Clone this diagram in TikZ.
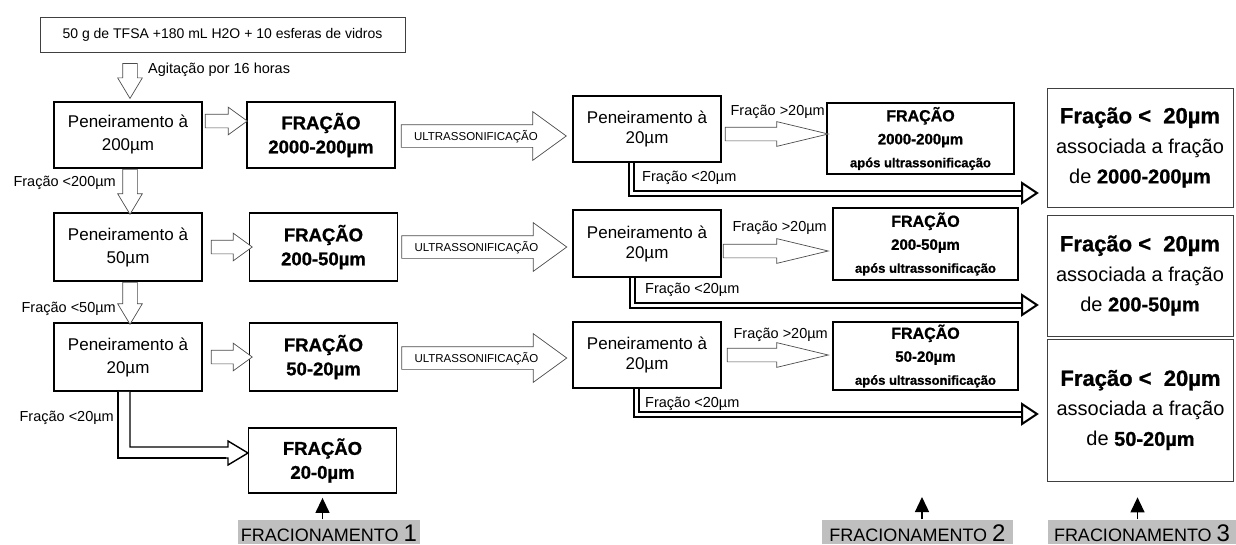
\documentclass[tikz,border=0pt]{standalone}
\usepackage{fontspec}
\setmainfont{Liberation Sans}
\newfontfamily\heavyfont[FakeBold=1]{Liberation Sans Bold}
\usetikzlibrary{positioning, arrows.meta, shapes.arrows, calc}
\newcommand{\fsz}[2]{\fontsize{#1}{#2}\selectfont}
\tikzset{
  box/.style={draw, line width=1.8pt, inner sep=0pt, align=center},
  sieve/.style={box, minimum width=148pt, minimum height=66pt, font=\fsz{17}{23}},
  sieveb/.style={sieve, font=\fsz{17}{20}},
  frac/.style={box, minimum width=148pt, minimum height=66pt, font=\heavyfont\fsz{18.5}{24}},
  fracu/.style={box, minimum width=186pt, minimum height=70pt, font=\heavyfont\fsz{15}{23}},
  final/.style={draw=black!75, line width=0.7pt, minimum width=186pt, inner sep=0pt, align=center, font=\fsz{20}{30}},
  thinbox/.style={draw=black!75, line width=0.7pt, inner sep=0pt, minimum width=365pt, minimum height=35pt, font=\fsz{14}{16}},
  lbl/.style={font=\fsz{14.5}{16}, inner sep=0pt},
  tag/.style={fill=black!25, inner sep=0pt, minimum height=24pt, text height=19pt, text depth=0pt, font=\fsz{18}{20}},
  barr/.style={single arrow, draw=black!70, fill=white, line width=0.7pt, anchor=tail},
  emptyarr/.style={barr, inner xsep=0pt, text height=0pt, text depth=0pt, text width=0pt},
  downarr/.style={emptyarr, rotate=-90, inner ysep=7pt, single arrow head extend=5pt, single arrow tip angle=62},
  rightarr/.style={emptyarr, minimum height=41pt, inner ysep=6.5pt, single arrow head extend=7pt, single arrow tip angle=72},
  sidearr/.style={emptyarr, minimum height=103pt, inner ysep=6.5pt, single arrow head extend=5.5pt, single arrow tip angle=27},
  ultra/.style={barr, minimum height=165pt, inner xsep=4pt, inner ysep=7pt, text height=8pt, text depth=0pt, single arrow head extend=13pt, single arrow tip angle=72, font=\fsz{11.5}{12}},
  dbl/.style={line width=2pt, double=white, double distance=3pt},
  dblhead/.style={line width=2pt, fill=white, line join=miter},
  hollow/.style={draw=black, line width=1.4pt, fill=white, line join=miter},
  uparr/.style={-{Triangle[length=15pt, width=14pt]}, line width=1.3pt}
}
\begin{document}
\begin{tikzpicture}[x=1pt, y=-1pt]
\useasboundingbox (0,0) rectangle (1236,544);
% first column
\node[thinbox] (top) at (222.5,34.5) {50 g de TFSA +180 mL H2O + 10 esferas de vidros};
\node[sieve] (P1) at (128,135) {Peneiramento à\\200µm};
\node[sieve, minimum height=68pt] (P2) at (128,247) {Peneiramento à\\50µm};
\node[sieve, minimum height=68pt] (P3) at (128,357) {Peneiramento à\\20µm};
\node[frac] (F1) at (321,135) {FRAÇÃO\\2000-200µm};
\node[frac, minimum height=68pt] (F2) at (323.5,247) {FRAÇÃO\\200-50µm};
\node[frac, minimum height=68pt] (F3) at (323.5,357) {FRAÇÃO\\50-20µm};
\node[frac, minimum height=65pt] (F4) at (322.5,460.5) {FRAÇÃO\\20-0µm};
\node[downarr, minimum height=35pt] (a0) at ([shift={(2,-38)}]P1.north) {};
\node[downarr, minimum height=45pt] (a1) at ([xshift=2pt]P1.south) {};
\node[downarr, minimum height=42pt] (a2) at ([xshift=2pt]P2.south) {};
\node[rightarr, minimum height=42pt] (a3) at ([shift={(2,-14)}]P1.east) {};
\node[rightarr] (a4) at ([xshift=8pt]P2.east) {};
\node[rightarr] (a5) at ([xshift=8pt]P3.east) {};
\node[lbl, anchor=west] at (148,70) {Agitação por 16 horas};
\node[lbl, anchor=east] at (116,183) {Fração <200µm};
\node[lbl, anchor=east] at (116,309) {Fração <50µm};
\node[lbl, anchor=east] at (114,418) {Fração <20µm};
\draw[hollow] ([xshift=-10pt]P3.south) -- (118,458) -- (228,458) -- (228,465) -- (248,453)
  -- (228,441) -- (228,447) -- (130,447) -- ([xshift=2pt]P3.south);
\draw[line width=2.6pt] ([xshift=-10pt]P3.south) -- (118,458) -- (226,458);
% ultrasonication
\node[ultra] (u1) at ([shift={(5,1)}]F1.east) {ULTRASSONIFICAÇÃO};
\node[ultra] (u2) at ([xshift=3pt]F2.east) {ULTRASSONIFICAÇÃO};
\node[ultra] (u3) at ([shift={(3,1)}]F3.east) {ULTRASSONIFICAÇÃO};
% second column
\node[sieveb] (P4) at (647,129) {Peneiramento à\\20µm};
\node[sieveb, minimum height=67pt] (P5) at (647,243.5) {Peneiramento à\\20µm};
\node[sieveb] (P6) at (647,355) {Peneiramento à\\20µm};
\node[fracu, minimum width=187pt, minimum height=71pt] (F5) at (920.5,138.5) {{\fsz{16}{23}FRAÇÃO}\\2000-200µm\\{\fsz{13}{23}após ultrassonificação}};
\node[fracu, minimum width=185pt, minimum height=72pt] (F6) at (925.5,244) {{\fsz{16}{23}FRAÇÃO}\\200-50µm\\{\fsz{13}{23}após ultrassonificação}};
\node[fracu, minimum width=185pt, minimum height=68pt] (F7) at (925.5,356) {{\fsz{16}{23}FRAÇÃO}\\50-20µm\\{\fsz{13}{23}após ultrassonificação}};
\node[sidearr] (s1) at ([shift={(3,5)}]P4.east) {};
\node[sidearr, minimum height=105pt] (s2) at ([shift={(1,7.5)}]P5.east) {};
\node[sidearr, minimum height=101pt] (s3) at ([xshift=5pt]P6.east) {};
\node[lbl, anchor=east] at (825,112) {Fração >20µm};
\node[lbl, anchor=east] at (827,228) {Fração >20µm};
\node[lbl, anchor=east] at (828,335) {Fração >20µm};
\node[lbl, anchor=west] at (642,178) {Fração <20µm};
\node[lbl, anchor=west] at (645,290) {Fração <20µm};
\node[lbl, anchor=west] at (645,404) {Fração <20µm};
% third column
\node[final, minimum height=119pt] (R1) at (1140,147.5) {{\heavyfont\fsz{22}{30}Fração <\ \ 20µm}\\associada a fração\\de {\heavyfont 2000-200µm}};
\node[final, minimum height=121pt] (R2) at (1140,275.5) {{\heavyfont\fsz{22}{30}Fração <\ \ 20µm}\\associada a fração\\de {\heavyfont 200-50µm}};
\node[final, minimum height=142pt] (R3) at (1140.5,410) {{\heavyfont\fsz{22}{30}Fração <\ \ 20µm}\\associada a fração\\de {\heavyfont 50-20µm}};
\coordinate (d1) at (1022,193);
\coordinate (d2) at (1022,305);
\coordinate (d3) at (1022,414);
\draw[dbl] ([xshift=-16pt]P4.south) |- (d1);
\draw[dbl] ([xshift=-15pt]P5.south) |- (d2);
\draw[dbl] ([xshift=-11pt]P6.south) |- (d3);
\foreach \d in {d1,d2,d3}
  \draw[dblhead] (\d) ++(0,-10) -- ++(15,10) -- ++(-15,10) -- cycle;
% stage tags
\node[tag, minimum width=182pt] (L1) at (329,531.5) {FRACIONAMENTO {\fsz{24}{24}1}};
\node[tag, minimum width=191pt] (L2) at (917.5,531.5) {FRACIONAMENTO {\fsz{24}{24}2}};
\node[tag, minimum width=188pt] (L3) at (1142,531.5) {FRACIONAMENTO {\fsz{24}{24}3}};
\coordinate (c2) at (922,497);
\draw[uparr] (F4.south |- L1.north) -- ([yshift=-4pt]F4.south);
\draw[uparr] (c2 |- L2.north) -- (c2);
\draw[uparr] ([xshift=-3pt]R3.south |- L3.north) -- ([shift={(-3,16)}]R3.south);
\end{tikzpicture}
\end{document}
